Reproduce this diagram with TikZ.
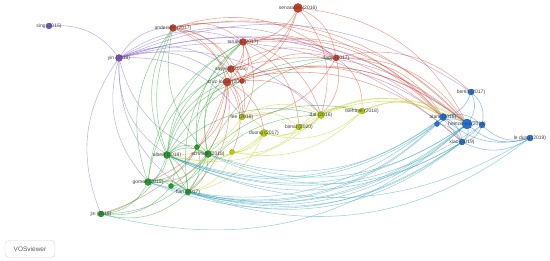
\documentclass[tikz,border=0pt]{standalone}
\usepackage{fontspec}
\setmainfont{Liberation Sans}
\usetikzlibrary{backgrounds}
\definecolor{MyPurple}{rgb}{0.50, 0.35, 0.78}
\definecolor{MyRed}{rgb}{0.80, 0.26, 0.16}
\definecolor{MyGreen}{rgb}{0.15, 0.62, 0.18}
\definecolor{MyLime}{rgb}{0.72, 0.80, 0.05}
\definecolor{MyBlue}{rgb}{0.12, 0.45, 0.84}
\definecolor{MyTeal}{rgb}{0.20, 0.62, 0.72}
\definecolor{MyInk}{rgb}{0.25, 0.25, 0.25}

\begin{document}
\begin{tikzpicture}[x=1pt, y=-1pt,
		item/.style={circle, fill=#1, draw=#1!75!black, line width=0.3pt,
			inner sep=0pt, minimum size=6pt},
		lbl/.style={font=\fontsize{5}{6}\selectfont, text=MyInk, inner sep=0pt},
		link/.style={draw=#1, draw opacity=0.45, line width=0.6pt, bend left=28}]
		\useasboundingbox (0,0) rectangle (550,261);
		% purple cluster
		\node[item=MyPurple, label={[lbl]center:sing (2015)}] (sing) at (49,26) {};
		\node[item=MyPurple, minimum size=7pt, label={[lbl]center:yin (2018)}] (yin) at (119,58) {};
		% red cluster
		\node[item=MyRed, minimum size=7pt, label={[lbl]center:andersen (2017)}] (andersen) at (173,28) {};
		\node[item=MyRed, minimum size=9pt, label={[lbl]center:senaratne (2016)}] (senaratne) at (298,8) {};
		\node[item=MyRed, minimum size=7pt, label={[lbl]center:tanaka (2017)}] (tanaka) at (243,42) {};
		\node[item=MyRed, minimum size=7pt, label={[lbl]center:sayyed (2016)}] (sayyed) at (231,69) {};
		\node[item=MyRed, minimum size=5pt] (cruzb) at (242,81) {};
		\node[item=MyRed, minimum size=8pt, label={[lbl]center:cruz-lucas (2017)}] (cruz) at (227,82) {};
		\node[item=MyRed, label={[lbl]center:nagy (2017)}] (nagy) at (336,58) {};
		% yellow cluster
		\node[item=MyLime, label={[lbl]center:lee (2018)}] (lee) at (242,117) {};
		\node[item=MyLime, minimum size=7pt, label={[lbl]center:dai (2016)}] (dai) at (321,115) {};
		\node[item=MyLime, label={[lbl]center:bimal (2020)}] (bimal) at (299,127) {};
		\node[item=MyLime, minimum size=7pt, label={[lbl]center:duong (2017)}] (duong) at (264,133) {};
		\node[item=MyLime, label={[lbl]center:tsehaye (2018)}] (tsehaye) at (362,111) {};
		\node[item=MyLime, minimum size=5pt] (limeb) at (232,152) {};
		% green cluster
		\node[item=MyGreen, minimum size=5pt] (greena) at (197,147) {};
		\node[item=MyGreen, minimum size=7pt, label={[lbl]center:albert (2018)}] (albert) at (167,155) {};
		\node[item=MyGreen, minimum size=7pt, label={[lbl]center:schmidt (2018)}] (schmidt) at (208,154) {};
		\node[item=MyGreen, minimum size=7pt, label={[lbl]center:gomes (2015)}] (gomes) at (148,182) {};
		\node[item=MyGreen, minimum size=5pt] (greenb) at (171,186) {};
		\node[item=MyGreen, label={[lbl]center:han (2017)}] (han) at (188,192) {};
		\node[item=MyGreen, label={[lbl]center:jin (2019)}] (jin) at (101,214) {};
		% blue cluster
		\node[item=MyBlue, label={[lbl]center:bertin (2017)}] (bertin) at (471,92) {};
		\node[item=MyBlue, minimum size=5pt] (alamb) at (437,124) {};
		\node[item=MyBlue, minimum size=7pt, label={[lbl]center:alam (2016)}] (alam) at (443,117) {};
		\node[item=MyBlue, minimum size=6pt] (heinzeb) at (482,125) {};
		\node[item=MyBlue, minimum size=10pt, label={[lbl]center:heinze-vu (2019)}] (heinze) at (467,124) {};
		\node[item=MyBlue, label={[lbl]center:xiao (2019)}] (xiao) at (462,142) {};
		\node[item=MyBlue, label={[lbl]center:le dung (2019)}] (ledung) at (530,138) {};
		% VOSviewer badge
		\node[draw=black!18, rounded corners=4pt, minimum width=50pt, minimum height=17pt,
			font=\fontsize{6.5}{8}\selectfont, text=black!65] (badge) at (30,249) {VOSviewer};
		% links
		\begin{scope}[on background layer]
			\draw[link=MyPurple] (sing) to (yin);
			\foreach \b in {andersen,tanaka,sayyed,cruz,lee,heinze,alam,bertin,xiao,dai,nagy}
				\draw[link=MyPurple] (yin) to (\b);
			\foreach \b in {albert,schmidt,han,gomes,jin}
				\draw[link=MyPurple!70!gray] (\b) to (yin);
			\foreach \b in {tanaka,sayyed,cruz,cruzb,lee,heinze,nagy,alam}
				\draw[link=MyRed] (andersen) to (\b);
			\foreach \b in {tanaka,sayyed,cruz,nagy,heinze,dai}
				\draw[link=MyRed] (senaratne) to (\b);
			\foreach \b in {sayyed,cruz,cruzb,nagy,lee,heinze,alam,dai,bimal,xiao}
				\draw[link=MyRed] (tanaka) to (\b);
			\foreach \b in {cruz,cruzb,nagy,heinze,lee}
				\draw[link=MyRed] (sayyed) to (\b);
			\foreach \b in {cruzb,greena,gomes,han,greenb,jin,lee,duong,heinze,alam,xiao,limeb}
				\draw[link=MyRed] (cruz) to (\b);
			\foreach \b in {nagy,heinze,dai}
				\draw[link=MyRed] (cruzb) to (\b);
			\foreach \b in {heinze,alam,bertin,dai,tsehaye,lee}
				\draw[link=MyRed] (nagy) to (\b);
			\foreach \b in {dai,bimal,duong,albert,schmidt}
				\draw[link=MyLime] (lee) to (\b);
			\foreach \b in {bimal,tsehaye,heinze,alam,duong,albert}
				\draw[link=MyLime] (dai) to (\b);
			\foreach \b in {duong,heinze,tsehaye,limeb}
				\draw[link=MyLime] (bimal) to (\b);
			\foreach \b in {limeb,albert,schmidt,han}
				\draw[link=MyLime] (duong) to (\b);
			\foreach \b in {heinze,alam,limeb,duong}
				\draw[link=MyLime] (tsehaye) to (\b);
			\foreach \b in {albert,han}
				\draw[link=MyLime] (limeb) to (\b);
			\foreach \b in {schmidt,greena,gomes,greenb,han,jin,andersen,tanaka,sayyed,cruz,cruzb,nagy,dai}
				\draw[link=MyGreen] (albert) to (\b);
			\foreach \b in {greena,han,gomes,greenb,jin,andersen,tanaka,sayyed,nagy,tsehaye}
				\draw[link=MyGreen] (schmidt) to (\b);
			\foreach \b in {han,gomes,tanaka,cruz}
				\draw[link=MyGreen] (greena) to (\b);
			\foreach \b in {greenb,han,jin,andersen,tanaka,sayyed}
				\draw[link=MyGreen] (gomes) to (\b);
			\foreach \b in {han,jin}
				\draw[link=MyGreen] (greenb) to (\b);
			\foreach \b in {jin,andersen,tanaka,dai}
				\draw[link=MyGreen] (han) to (\b);
			\foreach \b in {heinze,alam,heinzeb}
				\draw[link=MyBlue] (bertin) to (\b);
			\foreach \b in {alamb,heinze,heinzeb,xiao}
				\draw[link=MyBlue] (alam) to (\b);
			\foreach \b in {albert,schmidt,gomes,han}
				\draw[link=MyTeal] (alam) to (\b);
			\draw[link=MyBlue] (alamb) to (heinze);
			\draw[link=MyBlue] (alamb) to (xiao);
			\foreach \b in {albert,han}
				\draw[link=MyTeal] (alamb) to (\b);
			\foreach \b in {heinzeb,xiao}
				\draw[link=MyBlue] (heinze) to (\b);
			\foreach \b in {albert,schmidt,gomes,han,jin,greenb}
				\draw[link=MyTeal] (heinze) to (\b);
			\draw[link=MyBlue] (heinzeb) to (xiao);
			\foreach \b in {albert,han}
				\draw[link=MyTeal] (heinzeb) to (\b);
			\foreach \b in {albert,schmidt,gomes,han}
				\draw[link=MyTeal] (xiao) to (\b);
			\foreach \b in {heinze,heinzeb,xiao,alam}
				\draw[link=MyBlue] (ledung) to (\b);
			\foreach \b in {albert,han}
				\draw[link=MyTeal] (ledung) to (\b);
		\end{scope}
	\end{tikzpicture}
\end{document}
